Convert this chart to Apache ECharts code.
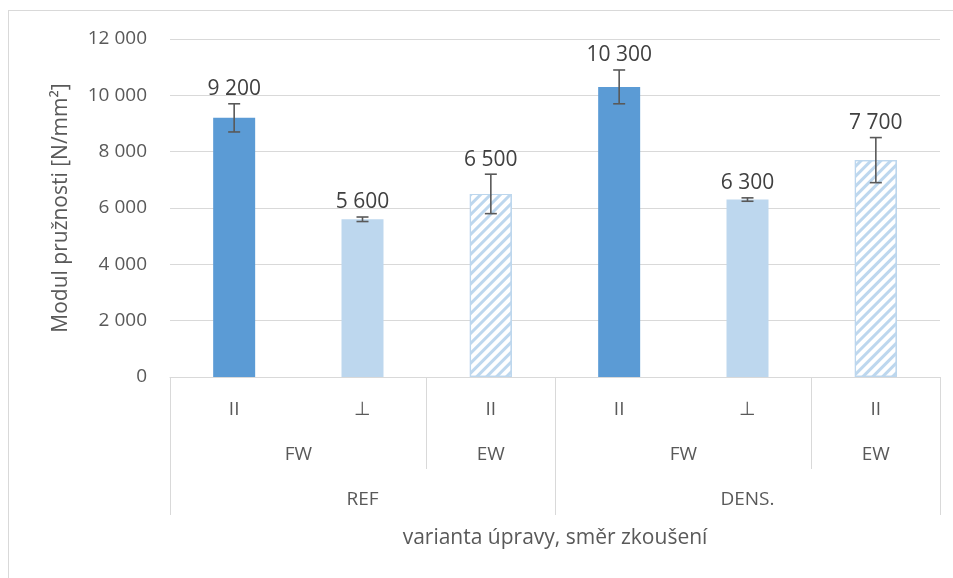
<!DOCTYPE html>
<html>
<head>
<meta charset="utf-8">
<script src="https://cdn.jsdelivr.net/npm/echarts@6/dist/echarts.min.js"></script>
<style>
  html, body { margin: 0; padding: 0; background: #fff; }
  #frame { position: absolute; left: 8px; top: 10px; width: 960px; height: 580px; border: 1px solid #d9d9d9; }
  #chart { position: absolute; left: 0; top: 0; width: 953px; height: 578px; }
</style>
</head>
<body>
<div id="frame"></div>
<div id="chart"></div>
<script>
// data
const directions = ["II", "⊥", "II", "II", "⊥", "II"];
const woodParts = ["FW", "EW", "FW", "EW"];
const variants = ["REF", "DENS."];
const modulus = [9200, 5600, 6500, 10300, 6300, 7700];
const modulusErr = [500, 80, 700, 600, 60, 800];
const yTicks = [0, 2000, 4000, 6000, 8000, 10000, 12000];

// where the group labels / dividers sit, in category units (0..6)
const partLabelPos = [1, 2.5, 4, 5.5];
const partDividers = [0, 2, 3, 5, 6];
const variantLabelPos = [1.5, 4.5];
const variantDividers = [0, 3, 6];

const FONT = "Open Sans";
const TXT = "#595959";
const GRID = "#d9d9d9";

const dark = "#5b9bd5";
const light = "#bdd7ee";

function fmt(v) {
  return String(v).replace(/\B(?=(\d{3})+(?!\d))/g, " ");
}

const hatch = {
  symbol: "rect",
  symbolSize: 1,
  color: light,
  dashArrayX: [1, 0],
  dashArrayY: [3, 4],
  rotation: -Math.PI / 4
};

const barData = modulus.map(function (v, i) {
  if (i === 0 || i === 3) return { value: v, itemStyle: { color: dark } };
  if (i === 1 || i === 4) return { value: v, itemStyle: { color: light } };
  return { value: v, itemStyle: { color: "#fff", borderColor: light, borderWidth: 1.2, decal: hatch } };
});

const errData = modulus.map(function (v, i) {
  return [i, v - modulusErr[i], v + modulusErr[i], v];
});

let chart = echarts.init(document.getElementById("chart"));
chart.setOption({
  animation: false,
  textStyle: { fontFamily: FONT },
  grid: { left: 170, right: 13, top: 39, bottom: 201 },
  xAxis: [
    {
      type: "category",
      data: directions,
      axisLine: { lineStyle: { color: GRID, width: 1 } },
      axisTick: { show: false },
      axisLabel: { color: TXT, fontSize: 19, margin: 23, fontFamily: FONT }
    },
    {
      type: "value",
      position: "bottom",
      min: 0,
      max: 6,
      axisLine: { show: false },
      splitLine: { show: false },
      axisTick: {
        show: true,
        customValues: partDividers,
        length: 92,
        lineStyle: { color: GRID, width: 1 }
      },
      axisLabel: {
        customValues: partLabelPos,
        color: TXT,
        fontSize: 19,
        margin: 68,
        fontFamily: FONT,
        formatter: function (v) {
          return woodParts[partLabelPos.indexOf(v)];
        }
      }
    },
    {
      type: "value",
      position: "bottom",
      min: 0,
      max: 6,
      axisLine: { show: false },
      splitLine: { show: false },
      axisTick: {
        show: true,
        customValues: variantDividers,
        length: 138,
        lineStyle: { color: GRID, width: 1 }
      },
      axisLabel: {
        customValues: variantLabelPos,
        color: TXT,
        fontSize: 19,
        margin: 113,
        fontFamily: FONT,
        formatter: function (v) {
          return variants[variantLabelPos.indexOf(v)];
        }
      },
      name: "varianta úpravy, směr zkoušení",
      nameLocation: "middle",
      nameGap: 151,
      nameTextStyle: { color: TXT, fontSize: 21, fontFamily: FONT }
    }
  ],
  yAxis: {
    type: "value",
    min: yTicks[0],
    max: yTicks[yTicks.length - 1],
    interval: 2000,
    axisLine: { show: false },
    axisTick: { show: false },
    splitLine: { lineStyle: { color: GRID, width: 1 } },
    axisLabel: {
      color: TXT,
      fontSize: 19,
      margin: 23,
      fontFamily: FONT,
      formatter: fmt
    },
    name: "Modul pružnosti [N/mm²]",
    nameLocation: "middle",
    nameRotate: 90,
    nameGap: 98,
    nameTextStyle: { color: TXT, fontSize: 21, fontFamily: FONT }
  },
  series: [
    {
      type: "bar",
      xAxisIndex: 0,
      data: barData,
      barWidth: 42
    },
    {
      type: "custom",
      xAxisIndex: 0,
      data: errData,
      z: 10,
      renderItem: function (params, api) {
        const x = api.coord([api.value(0), 0])[0];
        const lo = api.coord([api.value(0), api.value(1)])[1];
        const hi = api.coord([api.value(0), api.value(2)])[1];
        const cap = 6;
        const st = { stroke: "#595959", lineWidth: 1.6 };
        return {
          type: "group",
          children: [
            { type: "line", shape: { x1: x, y1: lo, x2: x, y2: hi }, style: st },
            { type: "line", shape: { x1: x - cap, y1: lo, x2: x + cap, y2: lo }, style: st },
            { type: "line", shape: { x1: x - cap, y1: hi, x2: x + cap, y2: hi }, style: st },
            {
              type: "text",
              x: x,
              y: hi - 4,
              style: {
                text: fmt(api.value(3)),
                fill: "#404040",
                font: "21px '" + FONT + "'",
                align: "center",
                verticalAlign: "bottom"
              }
            }
          ]
        };
      }
    }
  ]
});
</script>
</body>
</html>
